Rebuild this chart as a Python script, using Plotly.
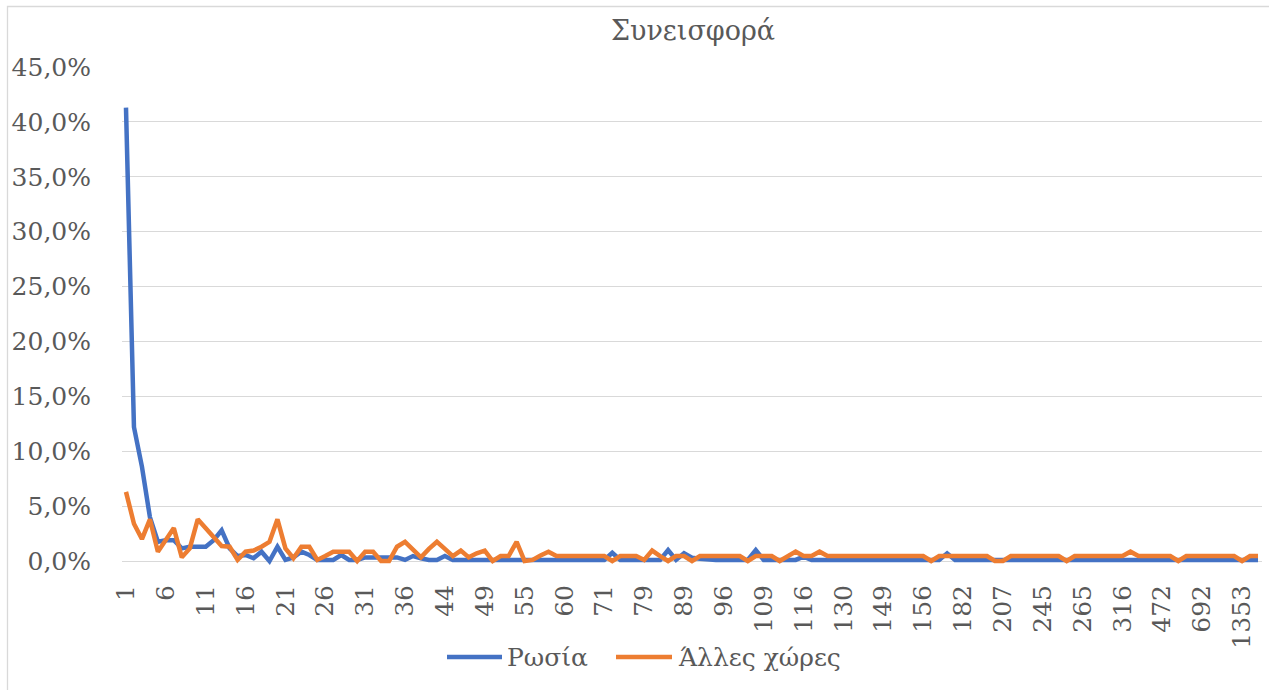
import plotly.graph_objects as go

# Category labels (x axis) – only every 5th is shown, as in the reference
categories = [
    "1", "2", "3", "4", "5", "6", "7", "8", "9", "10",
    "11", "12", "13", "14", "15", "16", "17", "18", "19", "20",
    "21", "22", "23", "24", "25", "26", "27", "28", "29", "30",
    "31", "32", "33", "34", "35", "36", "37", "39", "41", "42",
    "44", "45", "46", "47", "48", "49", "50", "51", "52", "54",
    "55", "56", "57", "58", "59", "60", "62", "64", "66", "68",
    "71", "72", "74", "76", "77", "79", "81", "83", "85", "87",
    "89", "90", "92", "93", "95", "96", "99", "101", "104", "106",
    "109", "110", "112", "113", "115", "116", "119", "121", "124", "127",
    "130", "134", "138", "141", "145", "149", "150", "152", "153", "155",
    "156", "161", "166", "171", "177", "182", "187", "192", "197", "202",
    "207", "214", "222", "230", "238", "245", "249", "253", "257", "261",
    "265", "274", "284", "295", "305", "316", "345", "376", "410", "440",
    "472", "510", "560", "610", "650", "692", "780", "900", "1050", "1200",
    "1353", "1650", "2410",
]

shown_ticks = ["1", "6", "11", "16", "21", "26", "31", "36", "44", "49", "55", "60",
               "71", "79", "89", "96", "109", "116", "130", "149", "156", "182",
               "207", "245", "265", "316", "472", "692", "1353"]

russia = [
    0.413, 0.122, 0.086, 0.040, 0.0175, 0.019, 0.019, 0.0115, 0.013, 0.013,
    0.013, 0.019, 0.028, 0.0115, 0.0045, 0.0055, 0.0025, 0.0085, 0.000, 0.013,
    0.001, 0.0033, 0.0085, 0.0055, 0.001, 0.001, 0.001, 0.0055, 0.001, 0.001,
    0.0033, 0.0033, 0.0033, 0.0033, 0.0033, 0.001, 0.0045, 0.0025, 0.001, 0.001,
    0.0045, 0.001, 0.001, 0.000, 0.001, 0.001, 0.001, 0.001, 0.001, 0.001,
    0.001, 0.001, 0.001, 0.001, 0.001, 0.001, 0.001, 0.001, 0.001, 0.001,
    0.001, 0.0075, 0.001, 0.001, 0.001, 0.001, 0.001, 0.001, 0.010, 0.001,
    0.007, 0.003, 0.002, 0.001, 0.001, 0.001, 0.001, 0.001, 0.001, 0.010,
    0.001, 0.001, 0.001, 0.001, 0.001, 0.004, 0.001, 0.001, 0.001, 0.001,
    0.001, 0.001, 0.001, 0.001, 0.001, 0.001, 0.001, 0.001, 0.001, 0.001,
    0.001, 0.001, 0.001, 0.007, 0.001, 0.001, 0.001, 0.001, 0.001, 0.001,
    0.001, 0.001, 0.001, 0.001, 0.001, 0.001, 0.001, 0.001, 0.001, 0.001,
    0.001, 0.001, 0.001, 0.001, 0.001, 0.001, 0.001, 0.001, 0.001, 0.001,
    0.001, 0.001, 0.001, 0.001, 0.001, 0.001, 0.001, 0.001, 0.001, 0.001,
    0.001, 0.001, 0.001,
]

other = [
    0.063, 0.034, 0.020, 0.038, 0.0085, 0.019, 0.030, 0.0033, 0.0115, 0.038,
    0.030, 0.0215, 0.0136, 0.013, 0.001, 0.0085, 0.0095, 0.013, 0.0175, 0.038,
    0.0115, 0.0025, 0.013, 0.013, 0.001, 0.0045, 0.0085, 0.0085, 0.0085, 0.000,
    0.0085, 0.0085, 0.000, 0.000, 0.013, 0.0175, 0.011, 0.0033, 0.011, 0.0175,
    0.011, 0.0045, 0.0095, 0.0033, 0.007, 0.0095, 0.000, 0.0045, 0.0045, 0.0175,
    0.000, 0.001, 0.005, 0.0085, 0.0045, 0.0045, 0.0045, 0.0045, 0.0045, 0.0045,
    0.0045, 0.000, 0.0045, 0.0045, 0.0045, 0.001, 0.0095, 0.0045, 0.000, 0.0045,
    0.0045, 0.000, 0.0045, 0.0045, 0.0045, 0.0045, 0.0045, 0.0045, 0.000, 0.0045,
    0.0045, 0.0045, 0.000, 0.0045, 0.0085, 0.0045, 0.0045, 0.0085, 0.0045, 0.0045,
    0.0045, 0.0045, 0.0045, 0.0045, 0.0045, 0.0045, 0.0045, 0.0045, 0.0045, 0.0045,
    0.0045, 0.000, 0.0045, 0.0045, 0.0045, 0.0045, 0.0045, 0.0045, 0.0045, 0.000,
    0.000, 0.0045, 0.0045, 0.0045, 0.0045, 0.0045, 0.0045, 0.0045, 0.000, 0.0045,
    0.0045, 0.0045, 0.0045, 0.0045, 0.0045, 0.0045, 0.0085, 0.0045, 0.0045, 0.0045,
    0.0045, 0.0045, 0.000, 0.0045, 0.0045, 0.0045, 0.0045, 0.0045, 0.0045, 0.0045,
    0.000, 0.0045, 0.0045,
]

series_names = ["Ρωσία", "Άλλες χώρες"]
series_colors = ["#4472C4", "#ED7D31"]

y_ticks = [0, 0.05, 0.10, 0.15, 0.20, 0.25, 0.30, 0.35, 0.40, 0.45]

GREY = "#595959"
FONT = "DejaVu Serif"
FS_TITLE = 27
FS_TICK = 25
FS_LEG = 25

fig = go.Figure()
for name, vals, col in zip(series_names, [russia, other], series_colors):
    fig.add_trace(go.Scatter(x=categories, y=vals, mode="lines", name=name,
                             line=dict(color=col, width=4.5), showlegend=False))

W, H = 1269, 690
L, R, T, B = 122, 7, 67, 125
PW, PH = W - L - R, H - T - B


def px_x(px):
    return (px - L) / PW


def px_y(py):
    return (H - B - py) / PH


fig.update_layout(
    width=W, height=H,
    margin=dict(l=L, r=R, t=T, b=B, autoexpand=False),
    paper_bgcolor="white", plot_bgcolor="white",
    separators=", ",
    font=dict(family=FONT, color=GREY, size=FS_TICK),
    title=dict(text="Συνεισφορά", x=693 / W, xref="container", xanchor="center",
               y=1 - 31 / H, yref="container", yanchor="middle",
               font=dict(family=FONT, color=GREY, size=FS_TITLE)),
    showlegend=False,
    xaxis=dict(type="category", categoryorder="array", categoryarray=categories,
               range=[-0.5, len(categories) - 0.5], automargin=False,
               tickmode="array", tickvals=shown_ticks, ticktext=shown_ticks,
               tickangle=-90, showgrid=False, showline=False, zeroline=False,
               ticks="", ticklabelstandoff=14,
               tickfont=dict(family=FONT, color=GREY, size=FS_TICK)),
    yaxis=dict(range=[-0.00364, 0.45], tickvals=y_ticks, tickformat=".1%",
               automargin=False,
               showgrid=True, gridcolor="#D9D9D9", gridwidth=1.3,
               zeroline=False, showline=False, ticks="", ticklabelstandoff=30,
               tickfont=dict(family=FONT, color=GREY, size=FS_TICK)),
)

# chart-area border (Excel chart frame)
fig.add_shape(type="rect", xref="paper", yref="paper",
              x0=px_x(7.5), x1=px_x(W + 20), y0=px_y(H + 20), y1=px_y(6.5),
              line=dict(color="#D9D9D9", width=1.3), fillcolor="rgba(0,0,0,0)",
              layer="below")

# legend (Excel style: long line keys)
legend_items = [(447, 502, 505), (616, 672, 676)]
LEG_Y = 657
for (x0, x1, tx), name, col in zip(legend_items, series_names, series_colors):
    fig.add_shape(type="line", xref="paper", yref="paper",
                  x0=px_x(x0), x1=px_x(x1), y0=px_y(LEG_Y), y1=px_y(LEG_Y),
                  line=dict(color=col, width=4.5))
    fig.add_annotation(text=name, xref="paper", yref="paper",
                       x=px_x(tx), y=px_y(LEG_Y), xanchor="left", yanchor="middle",
                       showarrow=False, font=dict(family=FONT, color=GREY, size=FS_LEG))

fig.write_html("out.html")
